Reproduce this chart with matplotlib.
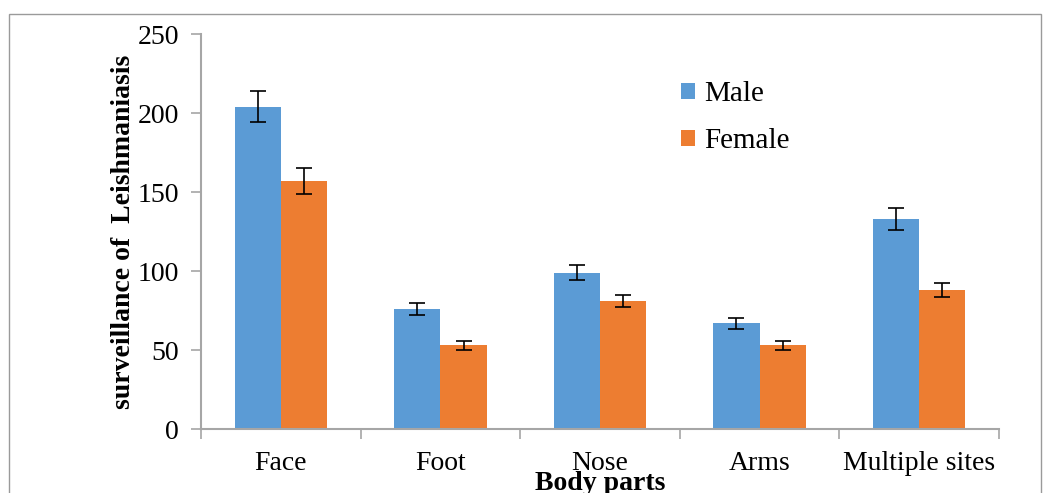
import matplotlib as mpl
import matplotlib.pyplot as plt
import matplotlib.patches as patches
import numpy as np

mpl.rcParams.update({"font.family": ["Liberation Serif", "DejaVu Serif"]})

# -----------------------------
# data
# -----------------------------
parts = ["Face", "Foot", "Nose", "Arms", "Multiple sites"]
male = [204, 76, 99, 67, 133]
female = [157, 53, 81, 53, 88]
male_err = [10, 4, 5, 3.5, 7]
female_err = [8, 3, 4, 3, 4.5]

blue = "#5B9BD5"
orange = "#ED7D31"
grey = "#A6A6A6"

fig = plt.figure(figsize=(10.49, 4.93), dpi=100)
ax = fig.add_axes([0.1916, 0.1298, 0.7607, 0.8012])

# outer frame like an Excel chart area
fig.patches.append(
    patches.Rectangle((9 / 1049, -0.05), 1032 / 1049, 1.05 - 14 / 493,
                      transform=fig.transFigure, fill=False,
                      edgecolor="#9A9A9A", linewidth=1.0)
)

x = np.arange(len(parts))
w = 0.29
err_kw = dict(ecolor="black", elinewidth=1.2, capsize=6, capthick=1.2)
ax.bar(x - w / 2, male, w, color=blue, label="Male",
       yerr=male_err, error_kw=err_kw)
ax.bar(x + w / 2, female, w, color=orange, label="Female",
       yerr=female_err, error_kw=err_kw)

ax.set_xlim(-0.5, len(parts) - 0.5)
ax.set_ylim(0, 250)
ax.set_yticks(np.arange(0, 251, 50))
ax.tick_params(axis="y", labelsize=20, length=7, color=grey, width=1.2, pad=9)

ax.set_xticks(np.arange(-0.5, len(parts), 1))
ax.set_xticklabels([])
ax.set_xticks(x, minor=True)
ax.set_xticklabels(parts, minor=True, fontsize=20)
ax.tick_params(axis="x", which="major", length=7, color=grey, width=1.2)
ax.tick_params(axis="x", which="minor", length=0, pad=16)

for s in ["top", "right"]:
    ax.spines[s].set_visible(False)
for s in ["left", "bottom"]:
    ax.spines[s].set_color(grey)
    ax.spines[s].set_linewidth(1.5)

ax.set_ylabel("surveillance of  Leishmaniasis", fontsize=20,
              fontweight="bold", labelpad=1)
ax.set_xlabel("Body parts", fontsize=20, fontweight="bold", labelpad=-4)

ax.legend(loc="upper left", bbox_to_anchor=(0.649, 0.835),
          bbox_transform=fig.transFigure, frameon=False, fontsize=21,
          borderpad=0, borderaxespad=0,
          handlelength=0.5, handleheight=0.5, handletextpad=0.3,
          labelspacing=0.72)

plt.savefig("out.png", dpi=100)
